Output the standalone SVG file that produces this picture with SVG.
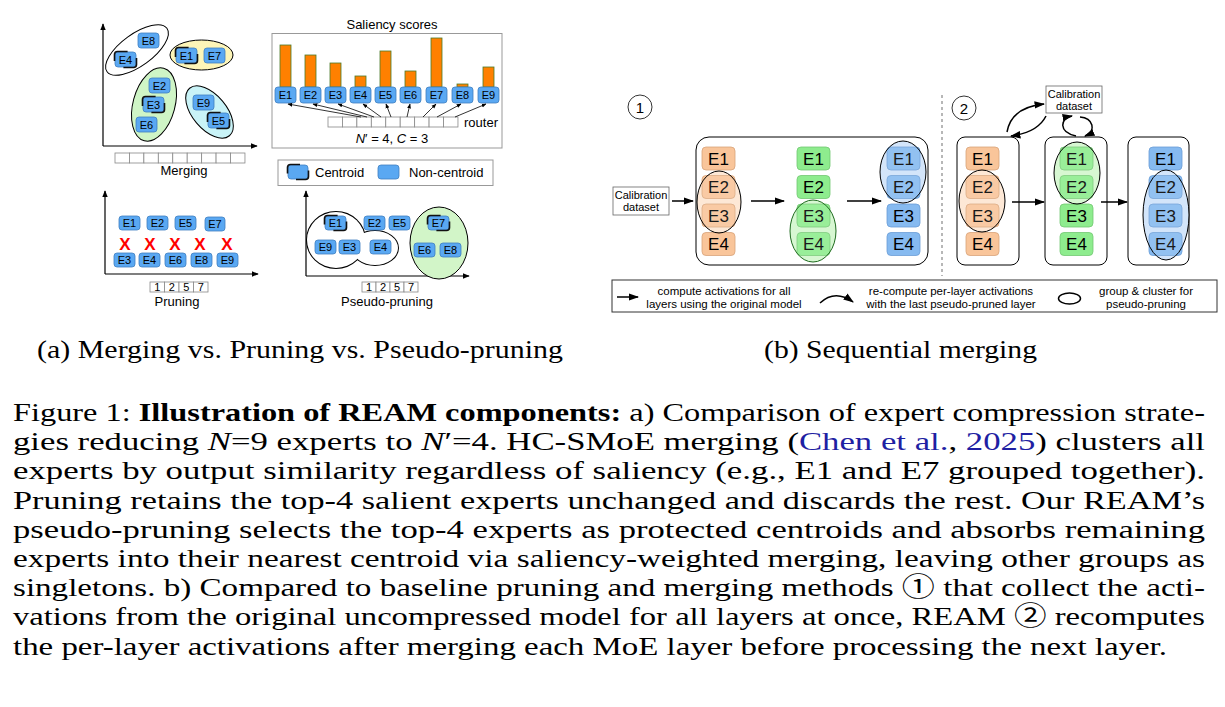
<svg xmlns="http://www.w3.org/2000/svg" width="1225" height="707" viewBox="0 0 1225 707">
<style>
text{font-family:"Liberation Sans",Arial,sans-serif;fill:#000}
.eb{fill:#5aa8f2;stroke:#3f7fc0;stroke-width:0.8}
.et{font-size:11px;text-anchor:middle}
.cb{fill:none;stroke:#111;stroke-width:1.6}
.lbl{font-size:13px;text-anchor:middle}
.cell{fill:#fff;stroke:#888;stroke-width:0.8}
.ax{stroke:#000;stroke-width:1.2;fill:none}
.thin{stroke:#000;stroke-width:0.8;fill:none}
.arr{stroke:#000;stroke-width:1.5;fill:none}
.bar{fill:#ff8000;stroke:#4a7a2a;stroke-width:0.8}
.ob{fill:#f9c59a;stroke:#d8a37a;stroke-width:0.8}
.gb{fill:#8eec8e;stroke:#72c872;stroke-width:0.8}
.bb{fill:#86baf0;stroke:#6b9dd6;stroke-width:0.8}
.bt{font-size:17px;text-anchor:middle}
.cal{fill:#fff;stroke:#666;stroke-width:0.8}
.ct{font-size:11px;text-anchor:middle}
.lg{font-size:11.5px;text-anchor:middle}
.cap{font-family:"Liberation Serif","Times New Roman","Noto Sans CJK JP",serif;font-size:26px}
.X{font-size:17px;font-weight:bold;fill:#ff0000;text-anchor:middle}
.ov{fill:#fff;fill-opacity:0.1;stroke-width:1}
</style>
<defs>
<marker id="ah" viewBox="0 0 10 10" refX="9" refY="5" markerWidth="6" markerHeight="6" orient="auto"><path d="M0,1 L10,5 L0,9 z" fill="#000"/></marker>
<marker id="ahs" viewBox="0 0 10 10" refX="9" refY="5" markerWidth="7" markerHeight="7" orient="auto"><path d="M0,1.5 L10,5 L0,8.5 z" fill="#000"/></marker>
</defs>

<!-- ===== Panel (a) Merging ===== -->
<g id="merging">
  <line class="ax" x1="103" y1="146" x2="103" y2="24" marker-end="url(#ah)"/>
  <line class="ax" x1="103" y1="146" x2="257" y2="146" marker-end="url(#ah)"/>
  <ellipse cx="137" cy="50" rx="37" ry="16" transform="rotate(-36 137 50)" fill="#fff" stroke="#000" stroke-width="1"/>
  <ellipse cx="201.5" cy="55" rx="31.5" ry="15" fill="#fdf5b8" stroke="#000" stroke-width="1"/>
  <ellipse cx="154" cy="104.5" rx="21" ry="37.5" transform="rotate(15 154 104.5)" fill="#cff5c6" stroke="#000" stroke-width="1"/>
  <ellipse cx="209.5" cy="112" rx="31" ry="17" transform="rotate(50 209.5 112)" fill="#c9f3f7" stroke="#000" stroke-width="1"/>
  <g id="m-e8"><rect class="eb" x="138" y="33" width="21" height="15" rx="3"/><text class="et" x="148.5" y="44.5">E8</text></g>
  <g id="m-e4"><rect class="eb" x="115" y="52" width="21" height="15" rx="3"/><path class="cb" d="M114.5,61 V54.5 Q114.5,51.5 117.5,51.5 H127.6 M136.5,58 V64.5 Q136.5,67.5 133.5,67.5 H123.4"/><text class="et" x="125.5" y="63.5">E4</text></g>
  <g id="m-e1"><rect class="eb" x="176" y="48" width="21" height="15" rx="3"/><path class="cb" d="M175.5,57 V50.5 Q175.5,47.5 178.5,47.5 H188.6 M197.5,54 V60.5 Q197.5,63.5 194.5,63.5 H184.4"/><text class="et" x="186.5" y="59.5">E1</text></g>
  <g id="m-e7"><rect class="eb" x="204" y="48" width="21" height="15" rx="3"/><text class="et" x="214.5" y="59.5">E7</text></g>
  <g id="m-e2"><rect class="eb" x="149" y="78" width="21" height="15" rx="3"/><text class="et" x="159.5" y="89.5">E2</text></g>
  <g id="m-e3"><rect class="eb" x="143" y="97" width="21" height="15" rx="3"/><path class="cb" d="M142.5,106 V99.5 Q142.5,96.5 145.5,96.5 H155.6 M164.5,103 V109.5 Q164.5,112.5 161.5,112.5 H151.4"/><text class="et" x="153.5" y="108.5">E3</text></g>
  <g id="m-e6"><rect class="eb" x="136" y="117" width="21" height="15" rx="3"/><text class="et" x="146.5" y="128.5">E6</text></g>
  <g id="m-e9"><rect class="eb" x="193" y="95" width="21" height="15" rx="3"/><text class="et" x="203.5" y="106.5">E9</text></g>
  <g id="m-e5"><rect class="eb" x="208" y="113" width="21" height="15" rx="3"/><path class="cb" d="M207.5,122 V115.5 Q207.5,112.5 210.5,112.5 H220.6 M229.5,119 V125.5 Q229.5,128.5 226.5,128.5 H216.4"/><text class="et" x="218.5" y="124.5">E5</text></g>
  <g id="m-cells">
    <rect class="cell" x="115" y="153" width="14.44" height="10"/><rect class="cell" x="129.44" y="153" width="14.44" height="10"/><rect class="cell" x="143.88" y="153" width="14.44" height="10"/><rect class="cell" x="158.32" y="153" width="14.44" height="10"/><rect class="cell" x="172.76" y="153" width="14.44" height="10"/><rect class="cell" x="187.2" y="153" width="14.44" height="10"/><rect class="cell" x="201.64" y="153" width="14.44" height="10"/><rect class="cell" x="216.08" y="153" width="14.44" height="10"/><rect class="cell" x="230.52" y="153" width="14.44" height="10"/>
  </g>
  <text class="lbl" x="184" y="175">Merging</text>
</g>

<!-- ===== Saliency scores ===== -->
<g id="saliency">
  <text class="lbl" x="392" y="29">Saliency scores</text>
  <rect x="272" y="33.5" width="230" height="114.5" fill="#fff" stroke="#999" stroke-width="1"/>
  <rect class="bar" x="280" y="45" width="11" height="42"/>
  <rect class="bar" x="305" y="55" width="11" height="32"/>
  <rect class="bar" x="330" y="63" width="11" height="24"/>
  <rect class="bar" x="355" y="76" width="11" height="11"/>
  <rect class="bar" x="380" y="51" width="11" height="36"/>
  <rect class="bar" x="405" y="71" width="11" height="16"/>
  <rect class="bar" x="431" y="38" width="11" height="49"/>
  <rect class="bar" x="457" y="84" width="11" height="3"/>
  <rect class="bar" x="483" y="67" width="11" height="20"/>
  <g id="s-e1"><rect class="eb" x="275" y="87" width="21" height="16" rx="3"/><text class="et" x="285.5" y="99">E1</text></g>
  <g id="s-e2"><rect class="eb" x="300" y="87" width="21" height="16" rx="3"/><text class="et" x="310.5" y="99">E2</text></g>
  <g id="s-e3"><rect class="eb" x="325" y="87" width="21" height="16" rx="3"/><text class="et" x="335.5" y="99">E3</text></g>
  <g id="s-e4"><rect class="eb" x="350" y="87" width="21" height="16" rx="3"/><text class="et" x="360.5" y="99">E4</text></g>
  <g id="s-e5"><rect class="eb" x="375" y="87" width="21" height="16" rx="3"/><text class="et" x="385.5" y="99">E5</text></g>
  <g id="s-e6"><rect class="eb" x="400" y="87" width="21" height="16" rx="3"/><text class="et" x="410.5" y="99">E6</text></g>
  <g id="s-e7"><rect class="eb" x="426" y="87" width="21" height="16" rx="3"/><text class="et" x="436.5" y="99">E7</text></g>
  <g id="s-e8"><rect class="eb" x="452" y="87" width="21" height="16" rx="3"/><text class="et" x="462.5" y="99">E8</text></g>
  <g id="s-e9"><rect class="eb" x="478" y="87" width="21" height="16" rx="3"/><text class="et" x="488.5" y="99">E9</text></g>
  <g id="router">
    <rect class="cell" x="328" y="117" width="14.44" height="10"/><rect class="cell" x="342.44" y="117" width="14.44" height="10"/><rect class="cell" x="356.88" y="117" width="14.44" height="10"/><rect class="cell" x="371.32" y="117" width="14.44" height="10"/><rect class="cell" x="385.76" y="117" width="14.44" height="10"/><rect class="cell" x="400.2" y="117" width="14.44" height="10"/><rect class="cell" x="414.64" y="117" width="14.44" height="10"/><rect class="cell" x="429.08" y="117" width="14.44" height="10"/><rect class="cell" x="443.52" y="117" width="14.44" height="10"/>
    <text x="464" y="127" font-size="13">router</text>
  </g>
  <g id="router-arrows">
    <line class="thin" x1="361" y1="117" x2="288" y2="104" marker-end="url(#ah)"/>
    <line class="thin" x1="367" y1="117" x2="313" y2="104" marker-end="url(#ah)"/>
    <line class="thin" x1="374" y1="117" x2="338" y2="104" marker-end="url(#ah)"/>
    <line class="thin" x1="381" y1="117" x2="363" y2="104" marker-end="url(#ah)"/>
    <line class="thin" x1="391" y1="117" x2="386" y2="104" marker-end="url(#ah)"/>
    <line class="thin" x1="407" y1="117" x2="410" y2="104" marker-end="url(#ah)"/>
    <line class="thin" x1="423" y1="117" x2="436" y2="104" marker-end="url(#ah)"/>
    <line class="thin" x1="437" y1="117" x2="461" y2="104" marker-end="url(#ah)"/>
    <line class="thin" x1="455" y1="117" x2="486" y2="104" marker-end="url(#ah)"/>
  </g>
  <text class="lbl" x="392" y="143"><tspan font-style="italic">N</tspan>′ = 4, <tspan font-style="italic">C</tspan> = 3</text>
</g>

<!-- ===== Legend (a) ===== -->
<g id="legend-a">
  <rect x="278" y="160" width="215" height="25.5" fill="#fff" stroke="#999" stroke-width="1"/>
  <rect class="eb" x="288" y="165" width="20" height="14" rx="3"/>
  <path class="cb" d="M287.5,173.4 V167.5 Q287.5,164.5 290.5,164.5 H300 M308.5,170.6 V176.5 Q308.5,179.5 305.5,179.5 H296"/>
  <text x="315" y="177" font-size="13">Centroid</text>
  <rect class="eb" x="378" y="165" width="21" height="14" rx="3"/>
  <text x="409" y="177" font-size="13">Non-centroid</text>
</g>

<!-- ===== Pruning ===== -->
<g id="pruning">
  <line class="ax" x1="105" y1="274" x2="105" y2="191" marker-end="url(#ah)"/>
  <line class="ax" x1="105" y1="274" x2="258" y2="274" marker-end="url(#ah)"/>
  <g id="p-e1"><rect class="eb" x="119" y="216" width="21" height="14" rx="3"/><text class="et" x="129.5" y="227">E1</text></g>
  <g id="p-e2"><rect class="eb" x="147" y="216" width="21" height="14" rx="3"/><text class="et" x="157.5" y="227">E2</text></g>
  <g id="p-e5"><rect class="eb" x="175" y="216" width="21" height="14" rx="3"/><text class="et" x="185.5" y="227">E5</text></g>
  <g id="p-e7"><rect class="eb" x="205" y="217" width="20" height="14" rx="3"/><text class="et" x="215" y="228">E7</text></g>
  <text class="X" x="125" y="250">X</text><text class="X" x="150" y="250">X</text><text class="X" x="175" y="250">X</text><text class="X" x="200" y="250">X</text><text class="X" x="227" y="250">X</text>
  <g id="p-e3"><rect class="eb" x="114" y="253" width="21" height="14" rx="3"/><text class="et" x="124.5" y="264">E3</text></g>
  <g id="p-e4"><rect class="eb" x="139" y="253" width="21" height="14" rx="3"/><text class="et" x="149.5" y="264">E4</text></g>
  <g id="p-e6"><rect class="eb" x="165" y="253" width="21" height="14" rx="3"/><text class="et" x="175.5" y="264">E6</text></g>
  <g id="p-e8"><rect class="eb" x="191" y="253" width="21" height="14" rx="3"/><text class="et" x="201.5" y="264">E8</text></g>
  <g id="p-e9"><rect class="eb" x="217" y="253" width="21" height="14" rx="3"/><text class="et" x="227.5" y="264">E9</text></g>
  <g id="p-cells">
    <rect class="cell" x="150" y="282" width="14.5" height="10"/><rect class="cell" x="164.5" y="282" width="14.5" height="10"/><rect class="cell" x="179" y="282" width="14.5" height="10"/><rect class="cell" x="193.5" y="282" width="14.5" height="10"/>
    <text class="et" x="157.3" y="291">1</text><text class="et" x="171.8" y="291">2</text><text class="et" x="186.3" y="291">5</text><text class="et" x="200.8" y="291">7</text>
  </g>
  <text class="lbl" x="177" y="306">Pruning</text>
</g>

<!-- ===== Pseudo-pruning ===== -->
<g id="pseudo-pruning">
  <line class="ax" x1="306" y1="276" x2="306" y2="191" marker-end="url(#ah)"/>
  <line class="ax" x1="306" y1="276" x2="469" y2="276" marker-end="url(#ah)"/>
  <ellipse cx="336" cy="240" rx="29" ry="28" fill="none" stroke="#000" stroke-width="2"/>
  <ellipse cx="375" cy="248" rx="23" ry="17" fill="none" stroke="#000" stroke-width="2"/>
  <ellipse cx="336" cy="240" rx="29" ry="28" fill="#fff"/>
  <ellipse cx="375" cy="248" rx="23" ry="17" fill="#fff"/>
  <ellipse cx="439" cy="243" rx="29" ry="36" fill="#d2f5c8" stroke="#000" stroke-width="1"/>
  <g id="pp-e1"><rect class="eb" x="325" y="216" width="21" height="14" rx="3"/><path class="cb" d="M324.5,224.4 V218.5 Q324.5,215.5 327.5,215.5 H337.6 M346.5,221.6 V227.5 Q346.5,230.5 343.5,230.5 H333.4"/><text class="et" x="335.5" y="227">E1</text></g>
  <g id="pp-e2"><rect class="eb" x="364" y="216" width="21" height="14" rx="3"/><text class="et" x="374.5" y="227">E2</text></g>
  <g id="pp-e5"><rect class="eb" x="389" y="216" width="21" height="14" rx="3"/><text class="et" x="399.5" y="227">E5</text></g>
  <g id="pp-e9"><rect class="eb" x="315" y="240" width="21" height="14" rx="3"/><text class="et" x="325.5" y="251">E9</text></g>
  <g id="pp-e3"><rect class="eb" x="339" y="240" width="21" height="14" rx="3"/><text class="et" x="349.5" y="251">E3</text></g>
  <g id="pp-e4"><rect class="eb" x="370" y="240" width="21" height="14" rx="3"/><text class="et" x="380.5" y="251">E4</text></g>
  <g id="pp-e7"><rect class="eb" x="428" y="216" width="21" height="14" rx="3"/><path class="cb" d="M427.5,224.4 V218.5 Q427.5,215.5 430.5,215.5 H440.6 M449.5,221.6 V227.5 Q449.5,230.5 446.5,230.5 H436.4"/><text class="et" x="438.5" y="227">E7</text></g>
  <g id="pp-e6"><rect class="eb" x="414" y="243" width="21" height="14" rx="3"/><text class="et" x="424.5" y="254">E6</text></g>
  <g id="pp-e8"><rect class="eb" x="440" y="243" width="21" height="14" rx="3"/><text class="et" x="450.5" y="254">E8</text></g>
  <g id="pp-cells">
    <rect class="cell" x="362" y="282" width="14" height="10"/><rect class="cell" x="376" y="282" width="14" height="10"/><rect class="cell" x="390" y="282" width="14" height="10"/><rect class="cell" x="404" y="282" width="14" height="10"/>
    <text class="et" x="369" y="291">1</text><text class="et" x="383" y="291">2</text><text class="et" x="397" y="291">5</text><text class="et" x="411" y="291">7</text>
  </g>
  <text class="lbl" x="387" y="306">Pseudo-pruning</text>
</g>

<!-- ===== Panel (b) part 1 ===== -->
<g id="b1">
  <g id="circ1"><circle cx="640" cy="107" r="12" fill="#fff" stroke="#000" stroke-width="0.8"/><text x="640" y="112.5" font-size="15" text-anchor="middle">1</text></g>
  <g id="calib1"><rect class="cal" x="613" y="187" width="56" height="28"/><text class="ct" x="641" y="199">Calibration</text><text class="ct" x="641" y="211">dataset</text></g>
  <rect id="layers1" x="696" y="137" width="232" height="128" rx="13" fill="#fff" stroke="#000" stroke-width="1"/>
  <g id="b1-c1">
    <ellipse cx="719" cy="202" rx="22" ry="31" fill="#fde6d2"/>
    <g><rect class="ob" x="702" y="147" width="33" height="23" rx="4"/><text class="bt" x="718.5" y="164.5">E1</text></g>
    <g><rect class="ob" x="702" y="175.5" width="33" height="23" rx="4"/><text class="bt" x="718.5" y="193">E2</text></g>
    <g><rect class="ob" x="702" y="204" width="33" height="23" rx="4"/><text class="bt" x="718.5" y="221.5">E3</text></g>
    <g><rect class="ob" x="702" y="232.5" width="33" height="23" rx="4"/><text class="bt" x="718.5" y="250">E4</text></g>
    <ellipse class="ov" cx="719" cy="202" rx="22" ry="31" stroke="#000"/>
  </g>
  <g id="b1-c2">
    <ellipse cx="813" cy="231" rx="23" ry="31" fill="#d3f6cd"/>
    <g><rect class="gb" x="797" y="147" width="33" height="23" rx="4"/><text class="bt" x="813.5" y="164.5">E1</text></g>
    <g><rect class="gb" x="797" y="175.5" width="33" height="23" rx="4"/><text class="bt" x="813.5" y="193">E2</text></g>
    <g><rect class="gb" x="797" y="204" width="33" height="23" rx="4"/><text class="bt" x="813.5" y="221.5">E3</text></g>
    <g><rect class="gb" x="797" y="232.5" width="33" height="23" rx="4"/><text class="bt" x="813.5" y="250">E4</text></g>
    <ellipse class="ov" cx="813" cy="231" rx="23" ry="31" stroke="#1e6b1e"/>
  </g>
  <g id="b1-c3">
    <ellipse cx="903" cy="172" rx="23" ry="31" fill="#cfe3fa"/>
    <g><rect class="bb" x="887" y="147" width="33" height="23" rx="4"/><text class="bt" x="903.5" y="164.5">E1</text></g>
    <g><rect class="bb" x="887" y="175.5" width="33" height="23" rx="4"/><text class="bt" x="903.5" y="193">E2</text></g>
    <g><rect class="bb" x="887" y="204" width="33" height="23" rx="4"/><text class="bt" x="903.5" y="221.5">E3</text></g>
    <g><rect class="bb" x="887" y="232.5" width="33" height="23" rx="4"/><text class="bt" x="903.5" y="250">E4</text></g>
    <ellipse class="ov" cx="903" cy="172" rx="23" ry="31" stroke="#000"/>
  </g>
</g>

<line x1="942" y1="95" x2="942" y2="276" stroke="#888" stroke-width="1.2" stroke-dasharray="3,3"/>

<!-- ===== Panel (b) part 2 ===== -->
<g id="b2">
  <g id="circ2"><circle cx="964" cy="108" r="12" fill="#fff" stroke="#000" stroke-width="0.8"/><text x="964" y="113.5" font-size="15" text-anchor="middle">2</text></g>
  <g id="calib2"><rect class="cal" x="1046" y="86" width="56" height="27"/><text class="ct" x="1074" y="98">Calibration</text><text class="ct" x="1074" y="110">dataset</text></g>
  <g id="b2-l1">
    <rect x="957" y="137" width="62" height="128" rx="8" fill="#fff" stroke="#000" stroke-width="1"/>
    <ellipse cx="982" cy="201" rx="23" ry="31" fill="#fde6d2"/>
    <g><rect class="ob" x="966" y="147" width="33" height="23" rx="4"/><text class="bt" x="982.5" y="164.5">E1</text></g>
    <g><rect class="ob" x="966" y="175.5" width="33" height="23" rx="4"/><text class="bt" x="982.5" y="193">E2</text></g>
    <g><rect class="ob" x="966" y="204" width="33" height="23" rx="4"/><text class="bt" x="982.5" y="221.5">E3</text></g>
    <g><rect class="ob" x="966" y="232.5" width="33" height="23" rx="4"/><text class="bt" x="982.5" y="250">E4</text></g>
    <ellipse class="ov" cx="982" cy="201" rx="23" ry="31" stroke="#000"/>
  </g>
  <g id="b2-l2">
    <rect x="1045" y="137" width="62" height="128" rx="8" fill="#fff" stroke="#000" stroke-width="1"/>
    <ellipse cx="1077" cy="173" rx="23" ry="31" fill="#d3f6cd"/>
    <g><rect class="gb" x="1060" y="147" width="33" height="23" rx="4"/><text class="bt" x="1076.5" y="164.5">E1</text></g>
    <g><rect class="gb" x="1060" y="175.5" width="33" height="23" rx="4"/><text class="bt" x="1076.5" y="193">E2</text></g>
    <g><rect class="gb" x="1060" y="204" width="33" height="23" rx="4"/><text class="bt" x="1076.5" y="221.5">E3</text></g>
    <g><rect class="gb" x="1060" y="232.5" width="33" height="23" rx="4"/><text class="bt" x="1076.5" y="250">E4</text></g>
    <ellipse class="ov" cx="1077" cy="173" rx="23" ry="31" stroke="#000"/>
  </g>
  <g id="b2-l3">
    <rect x="1128" y="137" width="61" height="128" rx="8" fill="#fff" stroke="#000" stroke-width="1"/>
    <ellipse cx="1166" cy="215" rx="23" ry="45" fill="#cfe3fa"/>
    <g><rect class="bb" x="1149" y="147" width="33" height="23" rx="4"/><text class="bt" x="1165.5" y="164.5">E1</text></g>
    <g><rect class="bb" x="1149" y="175.5" width="33" height="23" rx="4"/><text class="bt" x="1165.5" y="193">E2</text></g>
    <g><rect class="bb" x="1149" y="204" width="33" height="23" rx="4"/><text class="bt" x="1165.5" y="221.5">E3</text></g>
    <g><rect class="bb" x="1149" y="232.5" width="33" height="23" rx="4"/><text class="bt" x="1165.5" y="250">E4</text></g>
    <ellipse class="ov" cx="1166" cy="215" rx="23" ry="45" stroke="#000"/>
  </g>
</g>

<!-- ===== Connectors ===== -->
<g id="connectors">
  <line class="arr" x1="672" y1="201" x2="693" y2="201" marker-end="url(#ahs)"/>
  <line class="arr" x1="751" y1="201" x2="784" y2="201" marker-end="url(#ahs)"/>
  <line class="arr" x1="847" y1="201" x2="881" y2="201" marker-end="url(#ahs)"/>
  <line class="arr" x1="1012" y1="202" x2="1044" y2="202" marker-end="url(#ahs)"/>
  <line class="arr" x1="1101" y1="202" x2="1127" y2="202" marker-end="url(#ahs)"/>
  <path class="arr" d="M1007,132 C1010,115 1024,106 1044,104" marker-end="url(#ahs)"/>
  <path class="arr" d="M1046,116 C1040,128 1026,134 1011,136" marker-end="url(#ahs)"/>
  <path class="arr" d="M1076,136 C1058,132 1060,118 1072,116" marker-end="url(#ahs)"/>
  <path class="arr" d="M1080,117 C1093,118 1097,131 1085,136" marker-end="url(#ahs)"/>
</g>

<!-- ===== Legend (b) ===== -->
<g id="legend-b">
  <rect x="612" y="280" width="605" height="32" fill="#fff" stroke="#333" stroke-width="1"/>
  <line class="arr" x1="617" y1="297" x2="638" y2="297" marker-end="url(#ahs)"/>
  <text class="lg" x="724" y="294.5">compute activations for all</text>
  <text class="lg" x="724" y="308">layers using the original model</text>
  <path class="arr" d="M820,303 Q835,289 853,302" marker-end="url(#ahs)"/>
  <text class="lg" x="951" y="294.5">re-compute per-layer activations</text>
  <text class="lg" x="951" y="308">with the last pseudo-pruned layer</text>
  <ellipse cx="1069.5" cy="298.5" rx="11" ry="5.5" fill="none" stroke="#000" stroke-width="1.5"/>
  <text class="lg" x="1146" y="294.5">group &amp; cluster for</text>
  <text class="lg" x="1146" y="308">pseudo-pruning</text>
</g>

<!-- ===== Captions ===== -->
<g id="captions">
  <text class="cap" x="37" y="358" textLength="526" lengthAdjust="spacingAndGlyphs">(a) Merging vs. Pruning vs. Pseudo-pruning</text>
  <text class="cap" x="764" y="358" textLength="273" lengthAdjust="spacingAndGlyphs">(b) Sequential merging</text>
  <text class="cap" x="13" y="421" textLength="1192" lengthAdjust="spacingAndGlyphs">Figure 1: <tspan font-weight="bold">Illustration of REAM components:</tspan> a) Comparison of expert compression strate-</text>
  <text class="cap" x="13" y="450" textLength="1192" lengthAdjust="spacingAndGlyphs">gies reducing <tspan font-style="italic">N</tspan>=9 experts to <tspan font-style="italic">N</tspan>′=4.  HC-SMoE merging (<tspan fill="#1f1fa3">Chen et al.</tspan>, <tspan fill="#1f1fa3">2025</tspan>) clusters all</text>
  <text class="cap" x="13" y="479" textLength="1192" lengthAdjust="spacingAndGlyphs">experts by output similarity regardless of saliency (e.g., E1 and E7 grouped together).</text>
  <text class="cap" x="13" y="509" textLength="1192" lengthAdjust="spacingAndGlyphs">Pruning retains the top-4 salient experts unchanged and discards the rest. Our REAM’s</text>
  <text class="cap" x="13" y="538" textLength="1192" lengthAdjust="spacingAndGlyphs">pseudo-pruning selects the top-4 experts as protected centroids and absorbs remaining</text>
  <text class="cap" x="13" y="567" textLength="1192" lengthAdjust="spacingAndGlyphs">experts into their nearest centroid via saliency-weighted merging, leaving other groups as</text>
  <text class="cap" x="13" y="596" textLength="1192" lengthAdjust="spacingAndGlyphs">singletons. b) Compared to baseline pruning and merging methods ① that collect the acti-</text>
  <text class="cap" x="13" y="625" textLength="1192" lengthAdjust="spacingAndGlyphs">vations from the original uncompressed model for all layers at once, REAM ② recomputes</text>
  <text class="cap" x="13" y="655" textLength="1154" lengthAdjust="spacingAndGlyphs">the per-layer activations after merging each MoE layer before processing the next layer.</text>
</g>
</svg>
